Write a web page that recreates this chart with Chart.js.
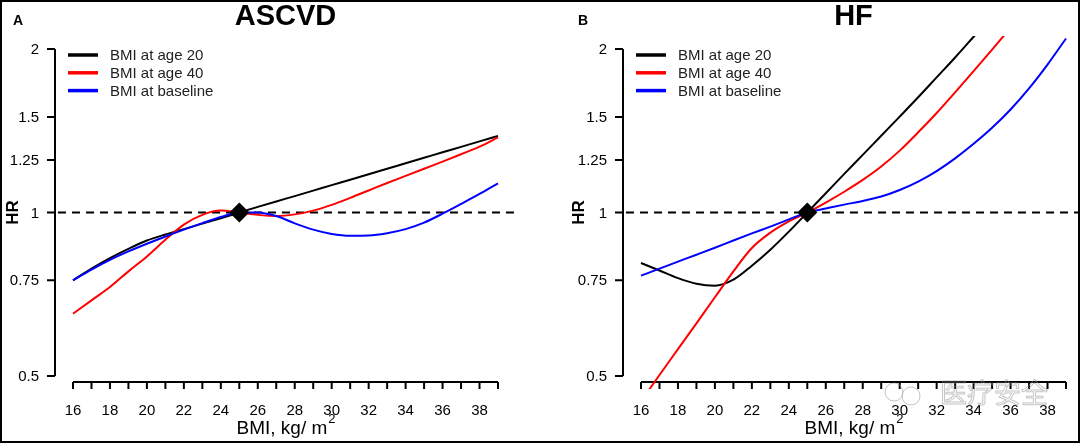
<!DOCTYPE html>
<html>
<head>
<meta charset="utf-8">
<script src="https://cdn.jsdelivr.net/npm/chart.js@4.4.1/dist/chart.umd.min.js"></script>
<style>
html, body { margin: 0; padding: 0; background: #fff; overflow: hidden; }
#wrap { position: relative; width: 1080px; height: 443px; overflow: hidden; }
#wrap canvas { position: absolute; top: 0; }
#frame { position: absolute; left: 0; top: 0; width: 1080px; height: 443px; box-sizing: border-box; border: 2px solid #000; pointer-events: none; }
</style>
</head>
<body>
<div id="wrap">
  <canvas id="ascvd" width="568" height="443" style="left:0"></canvas>
  <canvas id="hf" width="568" height="443" style="left:568px"></canvas>
  <div id="frame"></div>
</div>
<script>
// data (HR on log scale)
const bmi = [16, 17, 18, 19, 20, 21, 22, 23, 24, 25, 26, 27, 28, 29, 30, 31, 32, 33, 34, 35, 36, 37, 38, 39];
const xTicks = [16, 18, 20, 22, 24, 26, 28, 30, 32, 34, 36, 38];
const hrTicks = [0.5, 0.75, 1, 1.25, 1.5, 2];
const hrTickLabels = ['0.5', '0.75', '1', '1.25', '1.5', '2'];
const seriesNames = ['BMI at age 20', 'BMI at age 40', 'BMI at baseline'];
const seriesColors = ['#000000', '#ff0000', '#0000ff'];
const refBmi = [25];
const refHr = [1];

const ascvdAge20 = [0.75, 0.788, 0.824, 0.857, 0.888, 0.911, 0.932, 0.954, 0.976, 1.0, 1.024, 1.048, 1.072, 1.097, 1.123, 1.149, 1.176, 1.204, 1.232, 1.261, 1.291, 1.321, 1.352, 1.384];
const ascvdAge40 = [0.651, 0.689, 0.729, 0.779, 0.83, 0.891, 0.95, 0.99, 1.008, 1.0, 0.99, 0.985, 0.992, 1.008, 1.033, 1.064, 1.098, 1.133, 1.168, 1.204, 1.241, 1.28, 1.322, 1.375];
const ascvdBaseline = [0.75, 0.785, 0.818, 0.848, 0.876, 0.903, 0.93, 0.956, 0.981, 1.0, 1.0, 0.985, 0.955, 0.93, 0.913, 0.906, 0.907, 0.916, 0.932, 0.958, 0.995, 1.037, 1.082, 1.132];

const hfAge20 = [0.807, 0.782, 0.757, 0.739, 0.733, 0.752, 0.798, 0.854, 0.922, 1.0, 1.085, 1.178, 1.277, 1.385, 1.502, 1.63, 1.774, 1.93, 2.107, 2.3, null, null, null, null];
const hfAge40 = [0.449, 0.502, 0.56, 0.625, 0.698, 0.779, 0.86, 0.918, 0.963, 1.0, 1.043, 1.092, 1.148, 1.215, 1.3, 1.405, 1.525, 1.665, 1.822, 1.995, 2.19, null, null, null];
const hfBaseline = [0.765, 0.788, 0.812, 0.836, 0.861, 0.888, 0.915, 0.942, 0.971, 1.0, 1.017, 1.034, 1.05, 1.07, 1.1, 1.14, 1.192, 1.258, 1.338, 1.432, 1.548, 1.693, 1.873, 2.092];

const FONT = '"Liberation Sans", Arial, sans-serif';

// axes, labels, legend, reference line — drawn with the chart's own scales
const panelDecor = {
    id: 'panelDecor',
    beforeDatasetsDraw(chart, args, opts) {
        const { ctx, chartArea, scales } = chart;
        const x = scales.x, y = scales.y;
        ctx.save();
        ctx.fillStyle = '#000';
        ctx.strokeStyle = '#000';

        // title + panel letter
        ctx.font = `bold 29px ${FONT}`;
        ctx.textAlign = 'center';
        ctx.textBaseline = 'alphabetic';
        ctx.fillText(opts.title, (chartArea.left + chartArea.right) / 2, 25);
        ctx.font = `bold 14px ${FONT}`;
        ctx.textAlign = 'left';
        ctx.fillText(opts.letter, opts.letterX, 25);

        // y axis
        const ax = chartArea.left - 1;
        ctx.lineWidth = 2;
        ctx.beginPath();
        ctx.moveTo(ax, y.getPixelForValue(hrTicks[0]));
        ctx.lineTo(ax, y.getPixelForValue(hrTicks[hrTicks.length - 1]));
        hrTicks.forEach(v => {
            const py = y.getPixelForValue(v);
            ctx.moveTo(ax, py);
            ctx.lineTo(ax - 8, py);
        });
        ctx.stroke();
        ctx.font = `15px ${FONT}`;
        ctx.textAlign = 'right';
        ctx.textBaseline = 'middle';
        hrTicks.forEach((v, i) => ctx.fillText(hrTickLabels[i], ax - 16, y.getPixelForValue(v) + 1));

        // HR label
        ctx.save();
        ctx.translate(opts.hrX, y.getPixelForValue(1));
        ctx.rotate(-Math.PI / 2);
        ctx.font = `bold 17px ${FONT}`;
        ctx.textAlign = 'center';
        ctx.textBaseline = 'middle';
        ctx.fillText('HR', 0, 0);
        ctx.restore();

        // x axis
        const ay = chartArea.bottom - 7;
        ctx.beginPath();
        ctx.moveTo(x.getPixelForValue(bmi[0]), ay);
        ctx.lineTo(x.getPixelForValue(bmi[bmi.length - 1]), ay);
        bmi.forEach(v => {
            const px = x.getPixelForValue(v);
            ctx.moveTo(px, ay);
            ctx.lineTo(px, ay + 7);
        });
        ctx.stroke();
        ctx.font = `15px ${FONT}`;
        ctx.textAlign = 'center';
        ctx.textBaseline = 'alphabetic';
        xTicks.forEach(v => ctx.fillText(String(v), x.getPixelForValue(v), 415));

        // x title with superscript
        const cx = (chartArea.left + chartArea.right) / 2;
        ctx.font = `19px ${FONT}`;
        const main = 'BMI, kg/ m';
        const wMain = ctx.measureText(main).width;
        ctx.font = `13px ${FONT}`;
        const wSup = ctx.measureText('2').width;
        const x0 = cx - (wMain + wSup) / 2;
        ctx.textAlign = 'left';
        ctx.font = `19px ${FONT}`;
        ctx.fillText(main, x0, 434);
        ctx.font = `13px ${FONT}`;
        ctx.fillText('2', x0 + wMain + 1, 423);

        // dashed HR = 1 line
        const py1 = y.getPixelForValue(1);
        ctx.lineWidth = 2;
        ctx.setLineDash([8, 6]);
        ctx.beginPath();
        ctx.moveTo(chartArea.left + 2, py1);
        ctx.lineTo(chartArea.right, py1);
        ctx.stroke();
        ctx.setLineDash([]);

        // legend
        ctx.font = `15px ${FONT}`;
        ctx.textBaseline = 'middle';
        seriesNames.forEach((name, i) => {
            const ly = chartArea.top + 19 + i * 17.8;
            ctx.strokeStyle = seriesColors[i];
            ctx.lineWidth = 3.5;
            ctx.beginPath();
            ctx.moveTo(chartArea.left + 12, ly);
            ctx.lineTo(chartArea.left + 42, ly);
            ctx.stroke();
            ctx.fillStyle = '#222';
            ctx.fillText(name, chartArea.left + 54, ly + 1);
        });
        ctx.restore();
    },
    afterDraw(chart, args, opts) {
        if (!opts.watermark) return;
        const { ctx } = chart;
        ctx.save();
        ctx.font = `27px "Noto Sans CJK SC"`;
        ctx.textBaseline = 'alphabetic';
        ctx.textAlign = 'left';
        ctx.strokeStyle = 'rgba(150,150,150,0.55)';
        ctx.lineWidth = 1;
        ctx.strokeText(opts.watermark, 372, 403);
        ctx.beginPath();
        ctx.arc(326, 392, 9, 0, Math.PI * 2);
        ctx.moveTo(352, 396);
        ctx.arc(343, 396, 9, 0, Math.PI * 2);
        ctx.stroke();
        ctx.restore();
    }
};

function lineSet(values, color) {
    return {
        data: bmi.map((b, i) => ({ x: b, y: values[i] })),
        borderColor: color,
        borderWidth: 2,
        pointRadius: 0,
        fill: false,
        cubicInterpolationMode: 'monotone'
    };
}

function drawPanel(id, series, decor) {
    const canvas = document.getElementById(id);
    const datasets = [
        {
            data: refBmi.map((b, i) => ({ x: b, y: refHr[i] })),
            showLine: false,
            pointStyle: 'rectRot',
            pointRadius: 10,
            backgroundColor: '#000',
            borderColor: '#000',
            borderWidth: 0
        },
        lineSet(series[2], seriesColors[2]),
        lineSet(series[1], seriesColors[1]),
        lineSet(series[0], seriesColors[0])
    ];
    return new Chart(canvas.getContext('2d'), {
        type: 'line',
        data: { datasets },
        options: {
            responsive: false,
            animation: false,
            events: [],
            layout: { padding: { left: 56, right: 53, top: 36, bottom: 54 } },
            scales: {
                x: { type: 'linear', min: 15.08, max: 39.92, display: false },
                y: { type: 'logarithmic', min: 0.473, max: 2.114, display: false }
            },
            plugins: {
                legend: { display: false },
                tooltip: { enabled: false },
                panelDecor: decor
            }
        },
        plugins: [panelDecor]
    });
}

drawPanel('ascvd', [ascvdAge20, ascvdAge40, ascvdBaseline], { title: 'ASCVD', letter: 'A', letterX: 13, hrX: 13 });
drawPanel('hf', [hfAge20, hfAge40, hfBaseline], { title: 'HF', letter: 'B', letterX: 10, hrX: 11, watermark: '医疗安全' });
</script>
</body>
</html>
